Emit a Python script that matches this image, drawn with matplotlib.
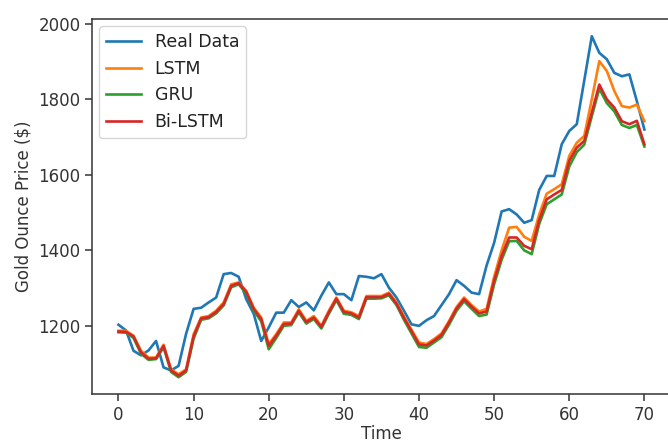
#!/usr/bin/env python3
"""
Gold ounce price: real data vs LSTM / GRU / Bi-LSTM predictions.
"""

import matplotlib
matplotlib.use("Agg")
import matplotlib.pyplot as plt

OUTPUT_PATH = "out.png"

# Values (one point per time step, 0..70)
real_data = [1203, 1188, 1134, 1122, 1135, 1160, 1090, 1082, 1094, 1179,
             1245, 1248, 1262, 1275, 1337, 1340, 1330, 1271, 1232, 1160,
             1196, 1235, 1235, 1268, 1250, 1262, 1241, 1280, 1315, 1284,
             1284, 1268, 1332, 1330, 1326, 1337, 1301, 1275, 1240, 1204,
             1200, 1215, 1226, 1255, 1284, 1321, 1306, 1288, 1284, 1360,
             1420, 1503, 1509, 1495, 1473, 1480, 1560, 1597, 1597, 1681,
             1716, 1734, 1850, 1967, 1923, 1906, 1870, 1861, 1866, 1795,
             1720]

lstm_pred = [1187, 1187, 1174, 1134, 1116, 1116, 1150, 1085, 1072, 1085,
             1178, 1222, 1226, 1240, 1262, 1310, 1315, 1293, 1248, 1222,
             1152, 1178, 1209, 1209, 1244, 1213, 1226, 1200, 1240, 1275,
             1240, 1236, 1226, 1279, 1279, 1279, 1288, 1262, 1225, 1190,
             1156, 1152, 1165, 1180, 1213, 1250, 1275, 1255, 1238, 1245,
             1330, 1400, 1460, 1462, 1436, 1425, 1495, 1550, 1562, 1575,
             1650, 1685, 1703, 1800, 1901, 1875, 1822, 1782, 1778, 1786,
             1742]

gru_pred = [1183, 1182, 1168, 1126, 1110, 1112, 1143, 1078, 1064, 1078,
            1166, 1216, 1220, 1233, 1254, 1302, 1310, 1286, 1240, 1212,
            1138, 1168, 1200, 1202, 1236, 1206, 1218, 1193, 1232, 1268,
            1232, 1229, 1218, 1272, 1272, 1273, 1281, 1255, 1216, 1180,
            1144, 1142, 1156, 1170, 1203, 1240, 1265, 1245, 1226, 1230,
            1310, 1375, 1424, 1425, 1400, 1390, 1470, 1522, 1535, 1548,
            1622, 1660, 1680, 1755, 1828, 1790, 1768, 1732, 1724, 1732,
            1675]

bilstm_pred = [1185, 1184, 1172, 1130, 1113, 1114, 1147, 1082, 1068, 1082,
               1172, 1220, 1223, 1237, 1258, 1306, 1313, 1290, 1245, 1218,
               1147, 1174, 1205, 1206, 1240, 1210, 1222, 1197, 1236, 1272,
               1237, 1233, 1222, 1276, 1276, 1276, 1285, 1259, 1221, 1186,
               1151, 1148, 1161, 1176, 1209, 1246, 1271, 1251, 1233, 1238,
               1320, 1385, 1434, 1434, 1412, 1403, 1480, 1535, 1548, 1560,
               1637, 1672, 1690, 1765, 1839, 1800, 1778, 1742, 1734, 1743,
               1681]

series_labels = ['Real Data', 'LSTM', 'GRU', 'Bi-LSTM']


def plot_predictions():
    plt.rcParams['font.family'] = ['DejaVu Sans']
    plt.rcParams['font.size'] = 12

    fig = plt.figure(figsize=(6.68, 4.46), dpi=100)
    ax = fig.add_axes([0.138, 0.116, 0.866, 0.841])

    time = list(range(len(real_data)))
    for values, label in zip([real_data, lstm_pred, gru_pred, bilstm_pred], series_labels):
        ax.plot(time, values, label=label, linewidth=1.9)

    ax.set_xticks(range(0, 71, 10))
    ax.set_yticks([1200, 1400, 1600, 1800, 2000])
    ax.tick_params(labelsize=12, length=5, width=1.1, colors='#333333')
    for spine in ax.spines.values():
        spine.set_linewidth(1.1)
        spine.set_color('#333333')

    ax.set_xlabel('Time', fontsize=12, labelpad=1, color='#333333')
    ax.set_ylabel('Gold Ounce Price ($)', fontsize=12, color='#333333')
    leg = ax.legend(loc='upper left', fontsize=12.5, handlelength=2.0,
                    labelspacing=0.5, borderaxespad=0.4)
    for text in leg.get_texts():
        text.set_color('#222222')

    fig.savefig(OUTPUT_PATH, dpi=100, facecolor='white')
    plt.close(fig)
    print(f"Saved '{OUTPUT_PATH}'")


def main():
    plot_predictions()


if __name__ == "__main__":
    main()
